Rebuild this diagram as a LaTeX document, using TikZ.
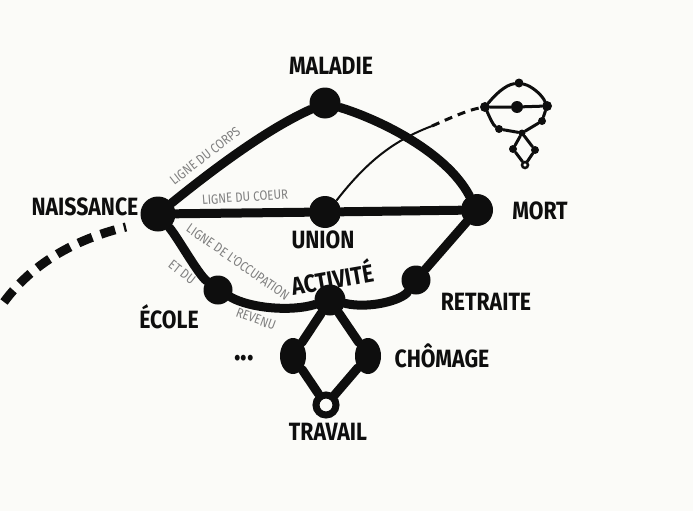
\documentclass[tikz,border=0pt]{standalone}
\usepackage{fontspec}
\newfontfamily\hand[FakeStretch=0.85]{Fira Sans}
\usetikzlibrary{shapes.geometric}
\definecolor{paper}{HTML}{FBFBF8}
\definecolor{ink}{HTML}{0E0E0E}
\definecolor{pencil}{HTML}{808080}

\begin{document}
\begin{tikzpicture}[
    x=1pt, y=-1pt,
    every node/.style={font=\hand\bfseries\fontsize{25}{25}\selectfont, text=ink},
    stage/.style={circle, fill=ink, inner sep=0pt, minimum size=#1},
    stage/.default=31pt,
    oval/.style={ellipse, fill=ink, inner sep=0pt, minimum width=26pt, minimum height=36pt},
    ring/.style={circle, draw=ink, fill=paper, line width=7pt, inner sep=0pt, minimum size=#1},
    lifeline/.style={draw=ink, line width=9pt, line cap=round},
    pastline/.style={draw=ink, line width=9pt, dash pattern=on 15pt off 9pt},
    thread/.style={draw=ink, line width=2pt},
    minidot/.style={circle, fill=ink, inner sep=0pt, minimum size=#1},
    miniline/.style={draw=ink, line width=3pt, line cap=round},
    linelabel/.style={font=\hand\mdseries\fontsize{13.5}{13.5}\selectfont, text=pencil},
]
\useasboundingbox[fill=paper] (0,0) rectangle (693,511);

% Main stages
\node[stage=35pt] (nais) at (158,214) {};
\node[stage] (mal) at (325,103) {};
\node[stage=32pt] (uni) at (325,212) {};
\node[stage=32pt] (mort) at (477,210) {};
\node[stage=29pt] (retr) at (416,280) {};
\node[stage] (activ) at (330,300) {};
\node[stage=29pt] (ecole) at (218,290) {};
\node[oval] (etc) at (293,356) {};
\node[oval] (chom) at (368,356) {};
\node[ring=20pt] (trav) at (326,405) {};

% Lines of life
\draw[lifeline] (nais) .. controls (210,172) and (265,130) .. (mal);
\draw[lifeline] (mal) .. controls (375,118) and (445,150) .. (mort);
\draw[lifeline] (nais) -- (uni) -- (mort);
\draw[lifeline] (nais) .. controls (178,238) and (198,274) .. (ecole);
\draw[lifeline] (ecole) .. controls (250,308) and (290,312) .. (activ);
\draw[lifeline] (activ) .. controls (370,309) and (402,300) .. (retr);
\draw[lifeline] (retr) -- (mort);
\draw[lifeline] (activ) -- (etc) -- (trav);
\draw[lifeline] (activ) -- (chom) -- (trav);

% Before birth
\coordinate (past) at (4,302);
\draw[pastline] (past) .. controls (35,260) and (80,238) .. (126,227);

% Small copy of the diagram
\node[minidot=10pt] (mL) at (485,107) {};
\node[minidot=9pt] (mT) at (519,83) {};
\node[minidot=12pt] (mC) at (517,107) {};
\node[minidot=10pt] (mR) at (547,106) {};
\node[minidot=8pt] (mRL) at (542,121) {};
\node[minidot=8pt] (mLL) at (499,129) {};
\node[minidot=7pt] (mB) at (522,133) {};
\node[minidot=8pt] (mQL) at (513,149) {};
\node[minidot=8pt] (mQR) at (535,150) {};
\node[circle, draw=ink, fill=paper, line width=2.5pt, inner sep=0pt, minimum size=6pt] (mRing) at (525,165) {};
\draw[miniline] (mL) .. controls (495,95) and (505,85) .. (mT);
\draw[miniline] (mT) .. controls (532,86) and (542,95) .. (mR);
\draw[miniline] (mL) -- (mC) -- (mR);
\draw[miniline] (mL) .. controls (490,118) and (493,125) .. (mLL);
\draw[miniline] (mLL) -- (mB) -- (mRL) -- (mR);
\draw[miniline] (mB) -- (mQL) -- (mRing);
\draw[miniline] (mB) -- (mQR) -- (mRing);

% Link from union to the small copy
\coordinate (cross) at (432,126);
\draw[thread] (uni.45) .. controls (368,160) and (395,140) .. (cross);
\draw[thread, line width=3pt, dash pattern=on 8pt off 6pt] (cross) .. controls (450,118) and (468,110) .. (mL);

% Stage names
\node (tmal) at (331,66) {MALADIE};
\node (tnais) at (85,207) {NAISSANCE};
\node (tmort) at (540,211) {MORT};
\node (tuni) at (323,240) {UNION};
\node[rotate=10] (tactiv) at (332,277) {ACTIVITÉ};
\node (tretr) at (486,302) {RETRAITE};
\node (tecole) at (169,317) {ÉCOLE};
\node (tchom) at (442,356) {CHÔMAGE};
\node[font=\hand\bfseries\fontsize{32}{32}\selectfont] (tetc) at (244,358) {...};
\node (ttrav) at (328,432) {TRAVAIL};

% Names of the lines
\node[linelabel, rotate=38] (lcorps) at (205,156) {LIGNE DU CORPS};
\node[linelabel, rotate=4] (lcoeur) at (245,197) {LIGNE DU COEUR};
\node[linelabel, rotate=-35] (locc) at (238,262) {LIGNE DE L'OCCUPATION};
\node[linelabel, rotate=-38] (letdu) at (182,272) {ET DU};
\node[linelabel, rotate=-20] (lrev) at (256,319) {REVENU};

\end{tikzpicture}
\end{document}
